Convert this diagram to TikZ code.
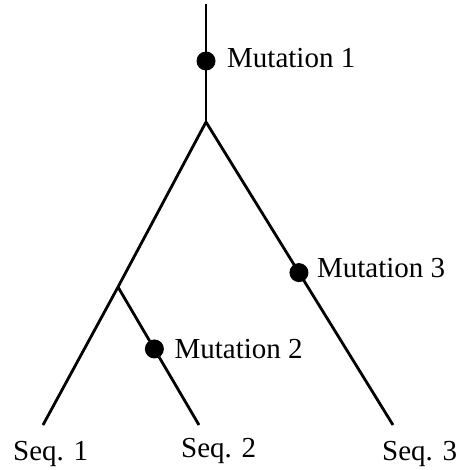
\documentclass[tikz,border=0pt]{standalone}
\usepackage{fontspec}
\setmainfont{Liberation Serif}
\usetikzlibrary{calc}
\begin{document}
\begin{tikzpicture}[x=1pt,y=-1pt,
  branch/.style={line width=2.8pt},
  mut/.style={circle,fill=black,inner sep=0pt,minimum size=19pt},
  lab/.style={font=\fontsize{29}{33}\selectfont,inner sep=0pt,anchor=base west}]
\useasboundingbox (0,0) rectangle (456,470);
% tree skeleton
\coordinate (top)   at (206,4);
\coordinate (root)  at (206,122);
\coordinate (inner) at (118,287);
\coordinate (leaf1) at (43,425);
\coordinate (leaf2) at (199,425);
\coordinate (leaf3) at (393,425);
\draw[branch] (top) -- (root);
\draw[branch] (root) -- (inner) -- (leaf1);
\draw[branch] (inner) -- (leaf2);
\draw[branch] (root) -- (leaf3);
% mutations on the branches
\node[mut] (m1) at (206,61) {};
\node[mut] (m2) at ($(inner)!0.449!(leaf2)$) {};
\node[mut] (m3) at ($(root)!0.497!(leaf3)$) {};
\node[lab] (t1) at ($(m1)+(21,7)$) {Mutation 1};
\node[lab] (t2) at ($(m2)+(20,10)$) {Mutation 2};
\node[lab] (t3) at ($(m3)+(18,5)$) {Mutation 3};
% leaf labels
\node[lab] (s1) at (13,460) {Seq. 1};
\node[lab] (s2) at (181,457) {Seq. 2};
\node[lab] (s3) at (382,460) {Seq. 3};
\end{tikzpicture}
\end{document}
